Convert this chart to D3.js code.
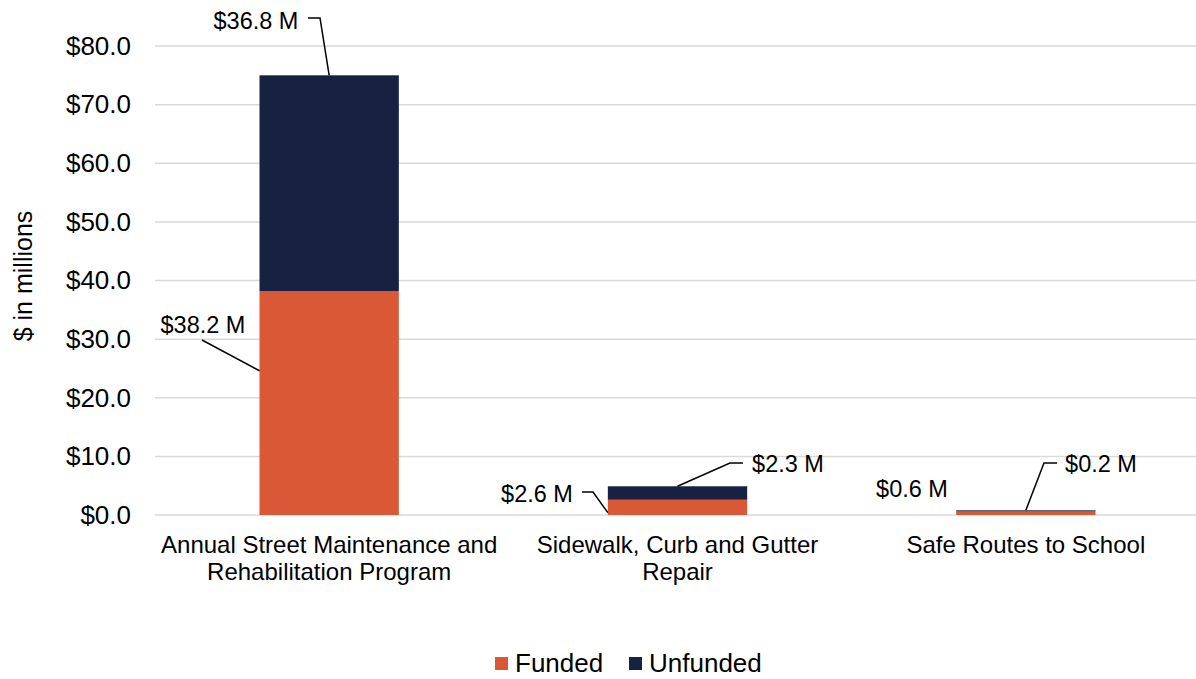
<!DOCTYPE html>
<html><head><meta charset="utf-8">
<script src="https://cdn.jsdelivr.net/npm/d3@7"></script>
<style>body{margin:0;background:#fff}svg{font-family:Arial,"Liberation Sans",sans-serif}</style>
</head><body><svg id="c" width="1196" height="679"></svg>
<script>
const categories = ["Annual Street Maintenance and Rehabilitation Program", "Sidewalk, Curb and Gutter Repair", "Safe Routes to School"];
const categoryLines = [["Annual Street Maintenance and", "Rehabilitation Program"], ["Sidewalk, Curb and Gutter", "Repair"], ["Safe Routes to School"]];
const funded = [38.2, 2.6, 0.6];
const unfunded = [36.8, 2.3, 0.2];
const seriesNames = ["Funded", "Unfunded"];
const yTicks = [0, 10, 20, 30, 40, 50, 60, 70, 80];

const colors = {Funded: "#D95936", Unfunded: "#172243"};
const svg = d3.select("#c");
const x = d3.scaleBand().domain(categories).range([155, 1200]).paddingInner(0.6).paddingOuter(0.3);
const y = d3.scaleLinear().domain([0, 80]).range([515, 46]);

// gridlines
svg.append("g").selectAll("line").data(yTicks).join("line")
  .attr("x1", 155).attr("x2", 1196).attr("y1", d => y(d)).attr("y2", d => y(d))
  .attr("stroke", "#d9d9d9").attr("stroke-width", 1.5);

// y labels
const yAxis = svg.append("g").attr("transform", "translate(131,0)")
  .call(d3.axisLeft(y).tickValues(yTicks).tickSize(0).tickPadding(0).tickFormat(d => "$" + d3.format(".1f")(d)));
yAxis.select(".domain").remove();
yAxis.selectAll("text").attr("font-size", 26).attr("font-family", "Arial, 'Liberation Sans', sans-serif").attr("fill", "#000");

svg.append("text").attr("transform", "translate(32,276) rotate(-90)").attr("text-anchor", "middle")
  .attr("font-size", 25).text("$ in millions");

const data = categories.map((c, i) => ({c, Funded: funded[i], Unfunded: unfunded[i]}));
const stacked = d3.stack().keys(seriesNames)(data);
svg.append("g").selectAll("g").data(stacked).join("g").attr("fill", d => colors[d.key])
  .selectAll("rect").data(d => d).join("rect")
  .attr("x", d => x(d.data.c)).attr("width", x.bandwidth())
  .attr("y", d => y(d[1])).attr("height", d => y(d[0]) - y(d[1]));

// category labels
categories.forEach((c, i) => {
  const t = svg.append("text").attr("x", x(c) + x.bandwidth() / 2).attr("y", 553)
    .attr("text-anchor", "middle").attr("font-size", 24);
  categoryLines[i].forEach((l, j) => t.append("tspan").attr("x", x(c) + x.bandwidth() / 2).attr("dy", j ? 27 : 0).text(l));
});

// data labels with leader lines
const fmt = v => "$" + d3.format(".1f")(v) + " M";
const bw = x.bandwidth();
const b = i => x(categories[i]);
const lfs = 23.5;
const labels = [
  {v: unfunded[0], tx: 256, ty: 29, pts: [[308, 18], [320, 18], [b(0) + bw / 2, y(funded[0] + unfunded[0])]]},
  {v: funded[0], tx: 203, ty: 333, pts: [[202, 340], [b(0), y(funded[0] / 2 + 5.5)]]},
  {v: funded[1], tx: 537, ty: 502, pts: [[582, 492], [593, 492], [b(1), y(funded[1] / 2 - 0.9)]]},
  {v: unfunded[1], tx: 788, ty: 472, pts: [[743, 463], [730, 463], [b(1) + bw / 2, y(funded[1] + unfunded[1])]]},
  {v: funded[2], tx: 912, ty: 497, pts: null},
  {v: unfunded[2], tx: 1101, ty: 472, pts: [[1057, 463], [1044, 463], [b(2) + bw / 2, y(funded[2] + unfunded[2])]]}
];
labels.forEach(l => {
  svg.append("text").attr("x", l.tx).attr("y", l.ty).attr("text-anchor", "middle").attr("font-size", lfs).text(fmt(l.v));
  if (l.pts) svg.append("path").attr("d", d3.line()(l.pts)).attr("fill", "none").attr("stroke", "#000").attr("stroke-width", 1.5);
});

// legend
const leg = [{k: "Funded", x: 495}, {k: "Unfunded", x: 629}];
leg.forEach(d => {
  svg.append("rect").attr("x", d.x).attr("y", 657).attr("width", 13).attr("height", 13).attr("fill", colors[d.k]);
  svg.append("text").attr("x", d.x + 20).attr("y", 672).attr("font-size", 26).text(d.k);
});
</script></body></html>
